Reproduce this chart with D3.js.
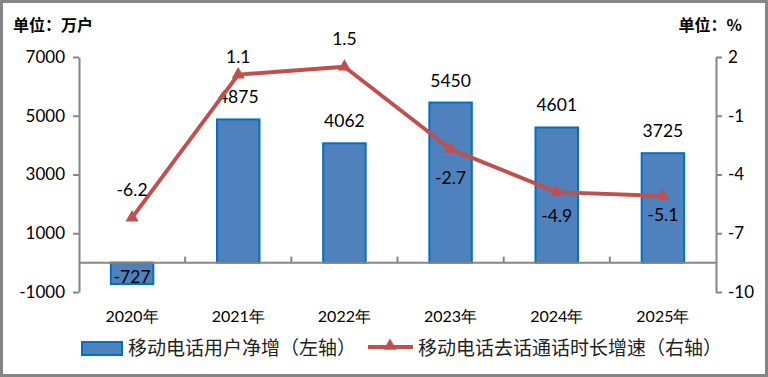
<!DOCTYPE html>
<html>
<head>
<meta charset="utf-8">
<script src="https://cdn.jsdelivr.net/npm/d3@7"></script>
<style>
  html, body { margin: 0; padding: 0; background: #fff; }
  svg { display: block; }
  .num { font-family: Lato, "Liberation Sans", sans-serif; fill: #000; }
  .cjk { font-family: "Noto Sans CJK SC", sans-serif; }
</style>
</head>
<body>
<svg width="768" height="377"></svg>
<script>
// data
const years = ["2020年", "2021年", "2022年", "2023年", "2024年", "2025年"];
const netAdds = [-727, 4875, 4062, 5450, 4601, 3725];          // 万户, left axis
const callGrowth = [-6.2, 1.1, 1.5, -2.7, -4.9, -5.1];         // %, right axis
const leftTicks = [-1000, 1000, 3000, 5000, 7000];
const rightTicks = [-10, -7, -4, -1, 2];
const barName = "移动电话用户净增（左轴）";
const lineName = "移动电话去话通话时长增速（右轴）";

// layout
const plotLeft = 79, plotRight = 716, plotTop = 57, plotBottom = 292;
const barColor = "#4F81BD", barStroke = "#0070C0", lineColor = "#C0504D", axisColor = "#868686";
const lineLabelDy = [-22, -12, -22, 35, 30, 25];

const svg = d3.select("svg");

svg.append("rect")
    .attr("x", 1.5).attr("y", 1.5)
    .attr("width", 765).attr("height", 374)
    .attr("fill", "#fff")
    .attr("stroke", axisColor)
    .attr("stroke-width", 3);

const x = d3.scaleBand()
    .domain(years)
    .range([plotLeft, plotRight])
    .paddingInner(0.6)
    .paddingOuter(0.3);
const step = x.step();
const yL = d3.scaleLinear().domain([-1000, 7000]).range([plotBottom, plotTop]);
const yR = d3.scaleLinear().domain([-10, 2]).range([plotBottom, plotTop]);
const cx = d => x(d) + x.bandwidth() / 2;

// unit titles
svg.append("text")
    .attr("class", "cjk")
    .attr("x", 13).attr("y", 31)
    .attr("font-size", 16).attr("font-weight", "bold")
    .text("单位：万户");
svg.append("text")
    .attr("class", "cjk")
    .attr("x", 742).attr("y", 31)
    .attr("text-anchor", "end")
    .attr("font-size", 16).attr("font-weight", "bold")
    .text("单位：%");

// left axis
const leftAxis = svg.append("g")
    .attr("transform", `translate(${plotLeft},0)`)
    .call(d3.axisLeft(yL).tickValues(leftTicks).tickFormat(d => String(d))
        .tickSize(6).tickSizeOuter(0).tickPadding(8));
leftAxis.selectAll("text").attr("class", "num").attr("font-size", 17);

// right axis
const rightAxis = svg.append("g")
    .attr("transform", `translate(${plotRight},0)`)
    .call(d3.axisRight(yR).tickValues(rightTicks).tickFormat(d => String(d))
        .tickSize(6).tickSizeOuter(0).tickPadding(6));
rightAxis.selectAll("text").attr("class", "num").attr("font-size", 17);

[leftAxis, rightAxis].forEach(a => {
    a.selectAll("path, line").attr("stroke", axisColor).attr("stroke-width", 2);
});

// bars
svg.append("g").selectAll("rect")
    .data(netAdds)
    .join("rect")
    .attr("x", (d, i) => x(years[i]))
    .attr("y", d => yL(Math.max(0, d)))
    .attr("width", x.bandwidth())
    .attr("height", d => Math.abs(yL(d) - yL(0)))
    .attr("fill", barColor)
    .attr("stroke", barStroke)
    .attr("stroke-width", 2);

// category axis at zero
const zeroY = yL(0);
svg.append("line")
    .attr("x1", plotLeft).attr("x2", plotRight)
    .attr("y1", zeroY).attr("y2", zeroY)
    .attr("stroke", axisColor).attr("stroke-width", 2);
svg.append("g").selectAll("line")
    .data(years.slice(1))
    .join("line")
    .attr("x1", d => x(d) - step * 0.3).attr("x2", d => x(d) - step * 0.3)
    .attr("y1", zeroY).attr("y2", zeroY - 6)
    .attr("stroke", axisColor).attr("stroke-width", 2);

svg.append("g").selectAll("text")
    .data(years)
    .join("text")
    .attr("class", "num")
    .attr("x", d => cx(d))
    .attr("y", 322)
    .attr("text-anchor", "middle")
    .attr("font-size", 16)
    .text(d => d);

// bar labels
svg.append("g").selectAll("text")
    .data(netAdds)
    .join("text")
    .attr("class", "num")
    .attr("x", (d, i) => cx(years[i]))
    .attr("y", d => d >= 0 ? yL(d) - 16 : yL(d) - 1)
    .attr("text-anchor", "middle")
    .attr("font-size", 17.5)
    .text(d => d);

// line
const line = d3.line()
    .x((d, i) => cx(years[i]))
    .y(d => yR(d));
svg.append("path")
    .datum(callGrowth)
    .attr("d", line)
    .attr("fill", "none")
    .attr("stroke", lineColor)
    .attr("stroke-width", 4)
    .attr("stroke-linejoin", "round");

svg.append("g").selectAll("path")
    .data(callGrowth)
    .join("path")
    .attr("transform", (d, i) => `translate(${cx(years[i])},${yR(d)})`)
    .attr("d", d3.symbol(d3.symbolTriangle, 75))
    .attr("fill", lineColor);

svg.append("g").selectAll("text")
    .data(callGrowth)
    .join("text")
    .attr("class", "num")
    .attr("x", (d, i) => cx(years[i]))
    .attr("y", (d, i) => yR(d) + lineLabelDy[i])
    .attr("text-anchor", "middle")
    .attr("font-size", 17.5)
    .text(d => d.toFixed(1));

// legend
const legend = svg.append("g");
legend.append("rect")
    .attr("x", 82).attr("y", 342)
    .attr("width", 40).attr("height", 13)
    .attr("fill", barColor)
    .attr("stroke", barStroke)
    .attr("stroke-width", 2);
legend.append("text")
    .attr("class", "cjk")
    .attr("x", 128).attr("y", 355)
    .attr("font-size", 19)
    .attr("fill", "#222")
    .text(barName);
legend.append("line")
    .attr("x1", 368).attr("x2", 413)
    .attr("y1", 347).attr("y2", 347)
    .attr("stroke", lineColor).attr("stroke-width", 4);
legend.append("path")
    .attr("transform", "translate(390,346)")
    .attr("d", d3.symbol(d3.symbolTriangle, 75))
    .attr("fill", lineColor);
legend.append("text")
    .attr("class", "cjk")
    .attr("x", 418).attr("y", 355)
    .attr("font-size", 19)
    .attr("fill", "#222")
    .text(lineName);
</script>
</body>
</html>
